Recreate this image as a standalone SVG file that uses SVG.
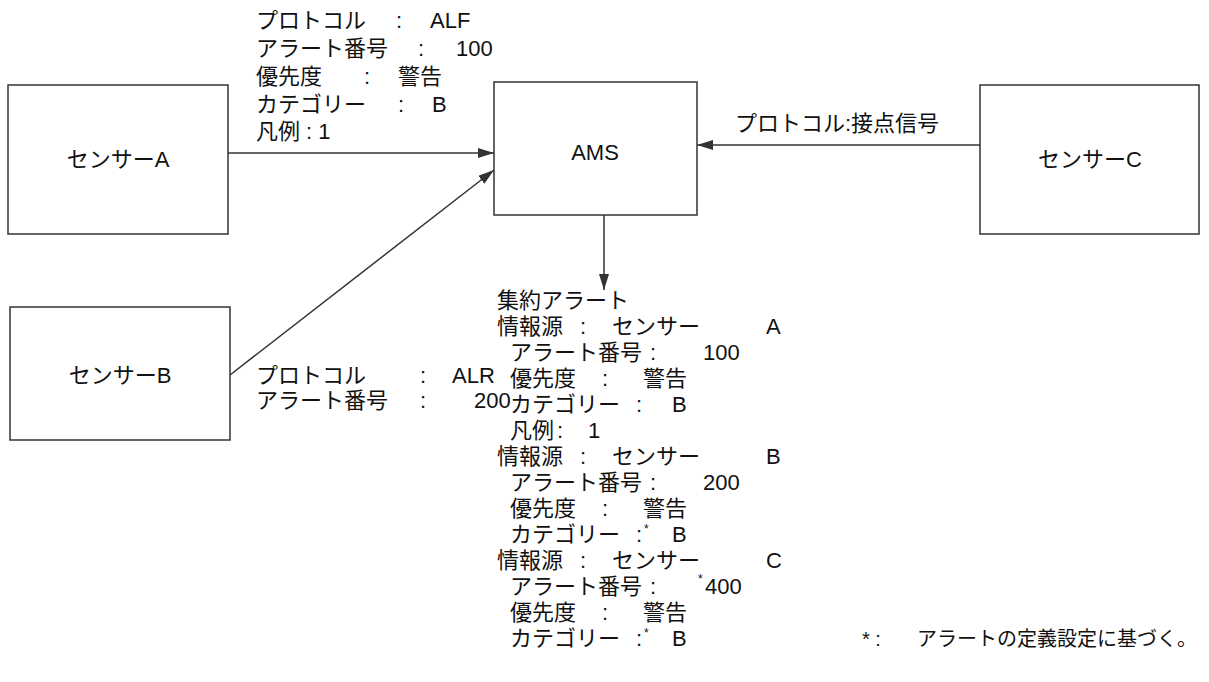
<svg xmlns="http://www.w3.org/2000/svg" width="1209" height="682" viewBox="0 0 1209 682">
<style>
text{font-family:"Liberation Sans","Noto Sans CJK JP",sans-serif;font-size:22px;fill:#111}
.box{fill:#fff;stroke:#333;stroke-width:1.5}
.ln{stroke:#333;stroke-width:1.5;fill:none}
.sup{font-size:12px}
.fn{font-size:20px}
</style>
<defs><marker id="ah" markerWidth="16" markerHeight="10" refX="16" refY="5" orient="auto" markerUnits="userSpaceOnUse"><path d="M0,0L16,5L0,10z" fill="#333"/></marker></defs>
<rect width="1209" height="682" fill="#fff"/>
<g id="sensorA"><rect class="box" x="8" y="85" width="220" height="149"/><text x="118" y="167" text-anchor="middle">センサーA</text></g>
<g id="sensorB"><rect class="box" x="10" y="307" width="220" height="133"/><text x="120" y="383" text-anchor="middle">センサーB</text></g>
<g id="ams"><rect class="box" x="494" y="82" width="203" height="133"/><text x="595" y="160" text-anchor="middle">AMS</text></g>
<g id="sensorC"><rect class="box" x="980" y="85" width="219" height="149"/><text x="1090" y="167" text-anchor="middle">センサーC</text></g>
<g id="connectors">
<line class="ln" x1="228" y1="153" x2="494" y2="153" marker-end="url(#ah)"/>
<line class="ln" x1="230" y1="375" x2="494" y2="170" marker-end="url(#ah)"/>
<line class="ln" x1="980" y1="145" x2="697" y2="145" marker-end="url(#ah)"/>
<line class="ln" x1="604" y1="215" x2="604" y2="290" marker-end="url(#ah)"/>
</g>
<g id="labelA">
<text x="256" y="28">プロトコル</text><text x="396" y="28">:</text><text x="430" y="28">ALF</text>
<text x="256" y="56">アラート番号</text><text x="418" y="56">:</text><text x="456" y="56">100</text>
<text x="256" y="84">優先度</text><text x="364" y="84">:</text><text x="398" y="84">警告</text>
<text x="256" y="112">カテゴリー</text><text x="398" y="112">:</text><text x="432" y="112">B</text>
<text x="256" y="139">凡例 : 1</text>
</g>
<g id="labelB">
<text x="256" y="383">プロトコル</text><text x="420" y="383">:</text><text x="452" y="383">ALR</text>
<text x="256" y="408">アラート番号</text><text x="420" y="408">:</text><text x="474" y="408">200</text>
</g>
<text x="735" y="131">プロトコル:接点信号</text>
<g id="aggregate">
<text x="497" y="308">集約アラート</text>
<text x="497" y="334">情報源</text><text x="580" y="334">:</text><text x="612" y="334">センサー</text><text x="766" y="334">A</text>
<text x="510" y="360">アラート番号</text><text x="650" y="360">:</text><text x="703" y="360">100</text>
<text x="510" y="386">優先度</text><text x="602" y="386">:</text><text x="643" y="386">警告</text>
<text x="510" y="412">カテゴリー</text><text x="636" y="412">:</text><text x="672" y="412">B</text>
<text x="510" y="438">凡例</text><text x="557" y="438">:</text><text x="588" y="438">1</text>
<text x="497" y="464">情報源</text><text x="580" y="464">:</text><text x="612" y="464">センサー</text><text x="766" y="464">B</text>
<text x="510" y="490">アラート番号</text><text x="650" y="490">:</text><text x="703" y="490">200</text>
<text x="510" y="516">優先度</text><text x="602" y="516">:</text><text x="643" y="516">警告</text>
<text x="510" y="542">カテゴリー</text><text x="636" y="542">:</text><text class="sup" x="644" y="533">*</text><text x="672" y="542">B</text>
<text x="497" y="568">情報源</text><text x="580" y="568">:</text><text x="612" y="568">センサー</text><text x="766" y="568">C</text>
<text x="510" y="594">アラート番号</text><text x="650" y="594">:</text><text class="sup" x="698" y="583">*</text><text x="705" y="594">400</text>
<text x="510" y="620">優先度</text><text x="602" y="620">:</text><text x="643" y="620">警告</text>
<text x="510" y="646">カテゴリー</text><text x="636" y="646">:</text><text class="sup" x="644" y="637">*</text><text x="672" y="646">B</text>
</g>
<text class="fn" x="862" y="646">* :</text><text class="fn" x="917" y="646">アラートの定義設定に基づく。</text>
</svg>
